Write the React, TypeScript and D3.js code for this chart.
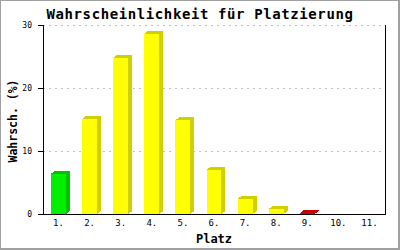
import React from "react";
import * as d3 from "d3";

const categories = ["1.", "2.", "3.", "4.", "5.", "6.", "7.", "8.", "9.", "10.", "11."];
const values = [6.4, 15.1, 24.8, 28.6, 14.9, 7.0, 2.4, 0.8, 0.15, 0, 0];
const barColors = ["green", "yellow", "yellow", "yellow", "yellow", "yellow", "yellow", "yellow", "red", "yellow", "yellow"];
const yTicks = [0, 10, 20, 30];

const title = "Wahrscheinlichkeit für Platzierung";
const yLabel = "Wahrsch. (%)";
const xLabel = "Platz";

const palette: Record<string, { front: string; side: string }> = {
  green: { front: "#00ee00", side: "#00c400" },
  yellow: { front: "#ffff00", side: "#d0d000" },
  red: { front: "#dd0000", side: "#c80000" },
};

const W = 400;
const H = 250;
const left = 43;
const right = 385;
const top = 25;
const bottom = 214;
const dx = 4;
const dy = 3;
const mono = "'DejaVu Sans Mono', 'Liberation Mono', monospace";

export default function App() {
  const x = d3
    .scaleBand<string>()
    .domain(categories)
    .range([left, right])
    .paddingInner(0.52)
    .paddingOuter(0.26);
  const y = d3.scaleLinear().domain([0, 30]).range([bottom, top]);

  return (
    <div style={{ position: "absolute", left: 0, top: 0 }}>
      <svg width={W} height={H} style={{ display: "block" }}>
        <rect x={0} y={0} width={W} height={H} fill="#ffffff" />
        {/* frame */}
        <rect x={0.5} y={0.5} width={W - 2} height={H - 2} fill="none" stroke="#a0a0a0" strokeWidth={1} shapeRendering="crispEdges" />
        <line x1={W - 0.5} y1={0} x2={W - 0.5} y2={H} stroke="#a0a0a0" shapeRendering="crispEdges" />
        <line x1={0} y1={H - 0.5} x2={W} y2={H - 0.5} stroke="#a0a0a0" shapeRendering="crispEdges" />

        <text x={200} y={19} textAnchor="middle" fontFamily={mono} fontWeight="bold" fontSize={14} letterSpacing={0.6} fill="#000">
          {title}
        </text>

        {/* grid */}
        {yTicks.filter((t) => t > 0).map((t) => (
          <line
            key={"g" + t}
            x1={left}
            x2={right}
            y1={Math.round(y(t)) + 0.5}
            y2={Math.round(y(t)) + 0.5}
            stroke="#c0c0c0"
            strokeDasharray="2,4"
            shapeRendering="crispEdges"
          />
        ))}

        {/* bars */}
        {values.map((v, i) => {
          if (v <= 0) return null;
          const c = palette[barColors[i]];
          const x0 = x(categories[i])!;
          const x1 = x0 + x.bandwidth();
          const yt = y(v);
          const yb = y(0);
          return (
            <g key={"b" + i} shapeRendering="crispEdges">
              <polygon
                points={`${x1},${yb} ${x1 + dx},${yb - dy} ${x1 + dx},${yt - dy} ${x1},${yt}`}
                fill={c.side}
              />
              <polygon
                points={`${x0},${yt} ${x0 + dx},${yt - dy} ${x1 + dx},${yt - dy} ${x1},${yt}`}
                fill={c.side}
              />
              <rect x={x0} y={yt} width={x1 - x0} height={yb - yt} fill={c.front} />
            </g>
          );
        })}

        {/* axes */}
        <line x1={left + 0.5} x2={left + 0.5} y1={top} y2={bottom + 1} stroke="#000" shapeRendering="crispEdges" />
        <line x1={right + 0.5} x2={right + 0.5} y1={top} y2={bottom + 1} stroke="#000" shapeRendering="crispEdges" />
        <line x1={left - 5} x2={right + 1} y1={bottom + 0.5} y2={bottom + 0.5} stroke="#000" shapeRendering="crispEdges" />
        {yTicks.map((t) => (
          <g key={"t" + t}>
            <line
              x1={left - 5}
              x2={left}
              y1={Math.round(y(t)) + 0.5}
              y2={Math.round(y(t)) + 0.5}
              stroke="#000"
              shapeRendering="crispEdges"
            />
            <text x={32} y={y(t) + 3} textAnchor="end" fontFamily={mono} fontSize={8} fill="#000">
              {t}
            </text>
          </g>
        ))}
        {categories.map((c) => (
          <text
            key={"x" + c}
            x={x(c)! + x.bandwidth() / 2}
            y={226}
            textAnchor="middle"
            fontFamily={mono}
            fontSize={9}
            fill="#000"
          >
            {c}
          </text>
        ))}

        <text x={214} y={243} textAnchor="middle" fontFamily={mono} fontWeight="bold" fontSize={12} fill="#000">
          {xLabel}
        </text>
        <text
          transform={`translate(17,121) rotate(-90)`}
          textAnchor="middle"
          fontFamily={mono}
          fontWeight="bold"
          fontSize={11.5}
          fill="#000"
        >
          {yLabel}
        </text>
      </svg>
    </div>
  );
}
